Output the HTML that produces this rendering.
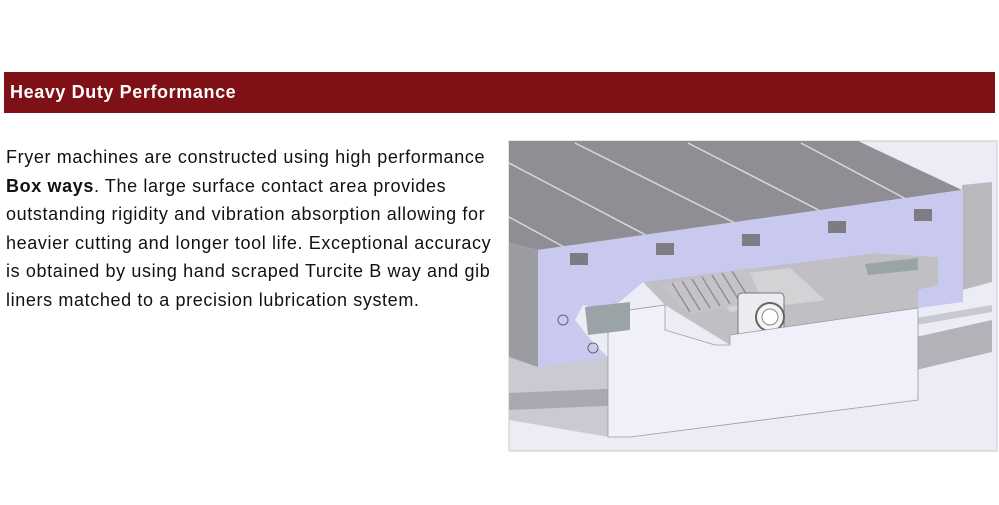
<!DOCTYPE html>
<html><head><meta charset="utf-8"><style>
body{margin:0;width:999px;height:505px;background:#fff;position:relative;overflow:hidden;font-family:"Liberation Sans",Arial,sans-serif}
.bar{position:absolute;left:4px;top:72px;width:991px;height:41px;background:#7f1016}
.bar span{position:absolute;left:6px;top:10px;color:#fff;font-weight:bold;font-size:18px;letter-spacing:0.6px;white-space:nowrap}
.txt{position:absolute;left:6px;top:143px;width:500px;font-size:18px;letter-spacing:0.62px;line-height:28.6px;color:#111;white-space:nowrap}
svg{position:absolute;left:508px;top:140px}
</style></head><body>
<div class="bar"><span>Heavy Duty Performance</span></div>
<div class="txt">Fryer machines are constructed using high performance<br><b>Box ways</b>. The large surface contact area provides<br>outstanding rigidity and vibration absorption allowing for<br>heavier cutting and longer tool life. Exceptional accuracy<br>is obtained by using hand scraped Turcite B way and gib<br>liners matched to a precision lubrication system.</div>
<svg width="491" height="313" viewBox="508 140 491 313">
<rect x="509" y="141" width="488" height="310" fill="#ececf6" stroke="#c8c8c8"/>
<polygon points="962,185 992,182 992,282 962,290" fill="#b9b9bd"/>
<polygon points="916,337 992,320 992,352 916,370" fill="#b2b2b8"/>
<polygon points="916,318 992,305 992,312 916,325" fill="#c8c8d0"/>
<polygon points="509,355 609,357 630,437 609,437 509,420" fill="#cacad2"/>
<polygon points="509,393 628,388 628,405 509,410" fill="#a9a9af"/>
<polygon points="509,141 858,141 962,190 538,250 509,243" fill="#8e8e94"/>
<g stroke="#d8d8dc" stroke-width="1.5" fill="none">
<line x1="575" y1="143" x2="755" y2="233"/>
<line x1="688" y1="143" x2="838" y2="220"/>
<line x1="801" y1="143" x2="921" y2="207"/>
<line x1="509" y1="163" x2="661" y2="243"/>
<line x1="509" y1="217" x2="575" y2="253"/>
</g>
<polygon points="509,243 538,250 538,367 509,357" fill="#9b9ba2"/>
<polygon points="538,250 963,190 963,302 918,308 918,290 938,285 938,257 875,253 643,282 610,310 583,305 575,320 595,345 608,357 538,367" fill="#c9c9ef"/>
<g fill="#7c7c82">
<rect x="570" y="253" width="18" height="12"/><rect x="656" y="243" width="18" height="12"/>
<rect x="742" y="234" width="18" height="12"/><rect x="828" y="221" width="18" height="12"/>
<rect x="914" y="209" width="18" height="12"/>
</g>
<polygon points="643,282 875,253 938,257 938,285 918,290 918,308 848,318 730,345 665,305" fill="#bfbfc4"/>
<polygon points="700,278 790,268 825,300 730,312" fill="#d3d3d6"/>
<polygon points="660,285 748,268 762,300 690,315" fill="#c4c4c8"/>
<g stroke="#8a8a90" stroke-width="1.3">
<line x1="672" y1="283" x2="690" y2="312"/><line x1="682" y1="281" x2="700" y2="310"/><line x1="692" y1="279" x2="710" y2="308"/><line x1="702" y1="277" x2="720" y2="306"/><line x1="712" y1="275" x2="730" y2="304"/><line x1="722" y1="273" x2="740" y2="302"/><line x1="732" y1="271" x2="750" y2="300"/>
</g>
<rect x="738" y="293" width="46" height="48" rx="4" fill="#ececf0" stroke="#777"/>
<circle cx="770" cy="317" r="14" fill="#f4f4f6" stroke="#666" stroke-width="2"/>
<circle cx="770" cy="317" r="8" fill="#fff" stroke="#888"/>
<polygon points="608,313 665,305 665,330 715,345 730,345 730,335 848,318 918,308 918,400 630,437 608,437" fill="#f0f0fb" stroke="#9a9aa0" stroke-width="0.8"/>
<polygon points="585,307 630,302 630,330 588,335" fill="#9aa3a6"/>
<polygon points="865,264 918,258 918,270 868,275" fill="#9aa3a6"/>
<circle cx="563" cy="320" r="5" fill="none" stroke="#666"/>
<circle cx="593" cy="348" r="5" fill="none" stroke="#666"/>
</svg>
</body></html>
